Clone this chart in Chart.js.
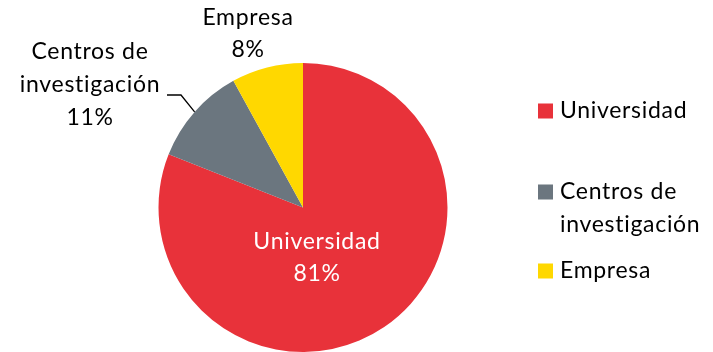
<!DOCTYPE html>
<html>
<head>
<meta charset="utf-8">
<script src="https://cdn.jsdelivr.net/npm/chart.js@4/dist/chart.umd.min.js"></script>
<style>
  html, body { margin: 0; padding: 0; background: #fff; }
  #wrap { width: 713px; height: 352px; position: relative; }
</style>
</head>
<body>
<div id="wrap"><canvas id="c" width="713" height="352"></canvas></div>
<script>
// Share of participants by type of institution (%)
const categories = ['Universidad', 'Centros de investigación', 'Empresa'];
const legendLines = [['Universidad'], ['Centros de', 'investigación'], ['Empresa']];
const shares = [81, 11, 8];
const colors = ['#E8323A', '#6B767F', '#FFD800'];

const FONT = '23px Lato, "Open Sans", sans-serif';
const SPACING = '0.7px';

function setText(ctx, align) {
  ctx.font = FONT;
  ctx.letterSpacing = SPACING;
  ctx.textAlign = align;
  ctx.textBaseline = 'middle';
}

// Data labels: inside the big slice, outside (with leader) for the small ones
const labelPlugin = {
  id: 'sliceLabels',
  afterDatasetsDraw(chart) {
    const ctx = chart.ctx;
    const arcs = chart.getDatasetMeta(0).data;
    ctx.save();
    setText(ctx, 'center');
    const lh = 32;

    // Universidad (inside, white)
    ctx.fillStyle = '#ffffff';
    const a0 = arcs[0];
    ctx.fillText(categories[0], a0.x + 14, a0.y + 34);
    ctx.fillText(shares[0] + '%', a0.x + 14, a0.y + 34 + lh);

    // Centros de investigación (outside, leader line)
    ctx.fillStyle = '#000000';
    const a1 = arcs[1];
    const mid1 = (a1.startAngle + a1.endAngle) / 2;
    const ex = a1.x + Math.cos(mid1) * a1.outerRadius;
    const ey = a1.y + Math.sin(mid1) * a1.outerRadius;
    const lx = 90, ly = 52;
    ctx.fillText('Centros de', lx, ly);
    ctx.fillText('investigación', lx, ly + 33);
    ctx.fillText(shares[1] + '%', lx, ly + 66);
    ctx.strokeStyle = '#000000';
    ctx.lineWidth = 1.3;
    ctx.beginPath();
    ctx.moveTo(167, 95);
    ctx.lineTo(181, 95);
    ctx.lineTo(ex, ey);
    ctx.stroke();

    // Empresa (above)
    ctx.fillText(categories[2], 248, 18);
    ctx.fillText(shares[2] + '%', 248, 50);
    ctx.restore();
  }
};

// Legend on the right, with wrapped entry text
const legendPlugin = {
  id: 'sideLegend',
  afterDraw(chart) {
    const ctx = chart.ctx;
    ctx.save();
    setText(ctx, 'left');
    const rows = [111, 192, 271];
    legendLines.forEach((lines, i) => {
      const y = rows[i];
      ctx.fillStyle = colors[i];
      ctx.fillRect(538, y - 7.5, 15, 15);
      ctx.fillStyle = '#000000';
      lines.forEach((t, j) => ctx.fillText(t, 560, y + j * 33));
    });
    ctx.restore();
  }
};

new Chart(document.getElementById('c'), {
  type: 'pie',
  data: {
    labels: categories,
    datasets: [{
      data: shares,
      backgroundColor: colors,
      borderWidth: 0
    }]
  },
  options: {
    responsive: false,
    animation: false,
    layout: { padding: { left: 158, right: 265, top: 63, bottom: 0 } },
    plugins: {
      legend: { display: false },
      tooltip: { enabled: false }
    }
  },
  plugins: [labelPlugin, legendPlugin]
});
</script>
</body>
</html>
